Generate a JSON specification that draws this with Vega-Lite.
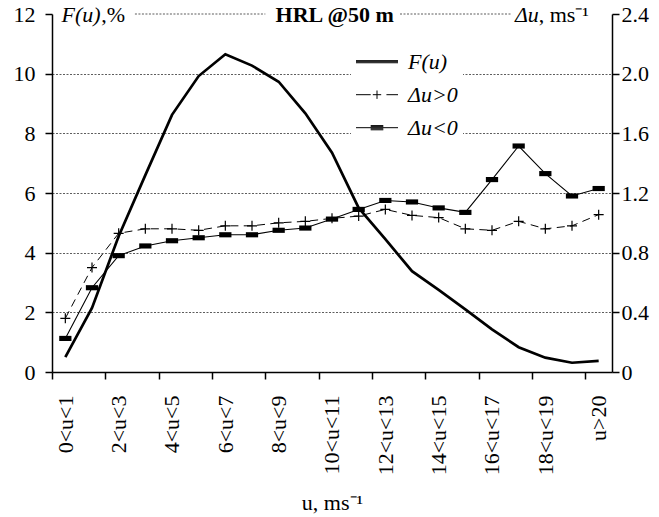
{
  "$schema": "https://vega.github.io/schema/vega-lite/v6.json",
  "width": 560,
  "height": 358,
  "autosize": {"type": "none"},
  "padding": {"left": 52, "top": 14, "right": 47, "bottom": 145},
  "background": "white",
  "config": {
    "view": {"stroke": null},
    "font": "Liberation Serif",
    "axis": {
      "labelFont": "Liberation Serif",
      "labelFontSize": 22,
      "labelColor": "black",
      "titleFont": "Liberation Serif",
      "titleFontSize": 22,
      "titleFontWeight": "normal",
      "titleColor": "black",
      "domainColor": "black",
      "domainWidth": 1.5
    }
  },
  "datasets": {
    "main": [
      {"u": 0.5, "F": 0.5, "pos": 0.36, "neg": 0.225},
      {"u": 1.5, "F": 2.15, "pos": 0.7, "neg": 0.565},
      {"u": 2.5, "F": 4.55, "pos": 0.93, "neg": 0.78},
      {"u": 3.5, "F": 6.6, "pos": 0.96, "neg": 0.845},
      {"u": 4.5, "F": 8.62, "pos": 0.96, "neg": 0.88},
      {"u": 5.5, "F": 9.92, "pos": 0.95, "neg": 0.9},
      {"u": 6.5, "F": 10.65, "pos": 0.98, "neg": 0.92},
      {"u": 7.5, "F": 10.27, "pos": 0.98, "neg": 0.92},
      {"u": 8.5, "F": 9.73, "pos": 1.0, "neg": 0.95},
      {"u": 9.5, "F": 8.67, "pos": 1.01, "neg": 0.965},
      {"u": 10.5, "F": 7.35, "pos": 1.03, "neg": 1.025},
      {"u": 11.5, "F": 5.5, "pos": 1.045, "neg": 1.09},
      {"u": 12.5, "F": 4.45, "pos": 1.09, "neg": 1.15},
      {"u": 13.5, "F": 3.38, "pos": 1.05, "neg": 1.14},
      {"u": 14.5, "F": 2.75, "pos": 1.035, "neg": 1.1},
      {"u": 15.5, "F": 2.1, "pos": 0.96, "neg": 1.07},
      {"u": 16.5, "F": 1.43, "pos": 0.95, "neg": 1.29},
      {"u": 17.5, "F": 0.83, "pos": 1.01, "neg": 1.515},
      {"u": 18.5, "F": 0.48, "pos": 0.96, "neg": 1.33},
      {"u": 19.5, "F": 0.31, "pos": 0.98, "neg": 1.18},
      {"u": 20.5, "F": 0.37, "pos": 1.055, "neg": 1.23}
    ]
  },
  "data": {"name": "main"},
  "layer": [
    {
      "layer": [
        {
          "mark": {"type": "line", "color": "black", "strokeWidth": 2.7},
          "encoding": {
            "x": {
              "field": "u",
              "type": "quantitative",
              "scale": {"domain": [0, 21], "nice": false, "zero": false},
              "axis": {
                "title": "u, ms⁻¹",
                "titlePadding": 18,
                "values": [0,1,2,3,4,5,6,7,8,9,10,11,12,13,14,15,16,17,18,19,20,21],
                "labelExpr": "datum.value % 2 == 0 && datum.value <= 20 ? ['0<u<1','2<u<3','4<u<5','6<u<7','8<u<9','10<u<11','12<u<13','14<u<15','16<u<17','18<u<19','u>20'][datum.value / 2] : ''",
                "labelOffset": 13.33,
                "labelAngle": -90,
                "labelPadding": 16,
                "labelFlush": false,
                "labelOverlap": false,
                "grid": false,
                "ticks": true,
                "tickSize": 7,
                "tickColor": "black",
                "tickWidth": 1.5,
                "tickOpacity": 1
              }
            },
            "y": {
              "field": "F",
              "type": "quantitative",
              "scale": {"domain": [0, 12], "nice": false},
              "axis": {
                "title": null,
                "orient": "left",
                "values": [0, 2, 4, 6, 8, 10, 12],
                "labelPadding": 10,
                "ticks": true,
                "tickSize": 7,
                "tickColor": "black",
                "tickWidth": 1.5,
                "grid": true,
                "gridColor": "#333",
                "gridWidth": 0.8,
                "gridDash": [2, 1.5],
                "gridOpacity": {"condition": {"test": "datum.value == 0 || datum.value == 12", "value": 0}, "value": 1}
              }
            }
          }
        },
        {
          "data": {"values": [{}]},
          "mark": {"type": "rule", "color": "#333", "strokeWidth": 0.8, "strokeDash": [2, 1.5]},
          "encoding": {
            "x": {"datum": 3.11, "type": "quantitative"},
            "x2": {"datum": 8.0},
            "y": {"datum": 12, "type": "quantitative"}
          }
        },
        {
          "data": {"values": [{}]},
          "mark": {"type": "rule", "color": "#333", "strokeWidth": 0.8, "strokeDash": [2, 1.5]},
          "encoding": {
            "x": {"datum": 13.05, "type": "quantitative"},
            "x2": {"datum": 17.24},
            "y": {"datum": 12, "type": "quantitative"}
          }
        },
        {
          "data": {"values": [{}]},
          "mark": {"type": "text", "text": "F(u)", "font": "Liberation Serif", "fontSize": 22, "fontStyle": "italic", "align": "left", "baseline": "middle", "dy": 1, "color": "black"},
          "encoding": {
            "x": {"datum": 0.36, "type": "quantitative"},
            "y": {"datum": 12, "type": "quantitative"}
          }
        },
        {
          "data": {"values": [{}]},
          "mark": {"type": "text", "text": ",%", "font": "Liberation Serif", "fontSize": 22, "align": "left", "baseline": "middle", "dy": 1, "color": "black"},
          "encoding": {
            "x": {"datum": 1.85, "type": "quantitative"},
            "y": {"datum": 12, "type": "quantitative"}
          }
        },
        {
          "data": {"values": [{}]},
          "mark": {"type": "text", "text": "HRL @50 m", "font": "Liberation Serif", "fontSize": 22, "fontWeight": "bold", "align": "center", "baseline": "middle", "dy": 1, "color": "black"},
          "encoding": {
            "x": {"datum": 10.6, "type": "quantitative"},
            "y": {"datum": 12, "type": "quantitative"}
          }
        },
        {
          "data": {"values": [{}]},
          "mark": {"type": "text", "text": "Δu", "font": "Liberation Serif", "fontSize": 22, "fontStyle": "italic", "align": "left", "baseline": "middle", "dy": 1, "color": "black"},
          "encoding": {
            "x": {"datum": 17.36, "type": "quantitative"},
            "y": {"datum": 12, "type": "quantitative"}
          }
        },
        {
          "data": {"values": [{}]},
          "mark": {"type": "text", "text": ", ms⁻¹", "font": "Liberation Serif", "fontSize": 22, "align": "left", "baseline": "middle", "dy": 1, "color": "black"},
          "encoding": {
            "x": {"datum": 18.25, "type": "quantitative"},
            "y": {"datum": 12, "type": "quantitative"}
          }
        }
      ]
    },
    {
      "layer": [
        {
          "mark": {"type": "line", "color": "black", "strokeWidth": 1, "strokeDash": [8, 5.33]},
          "encoding": {
            "x": {"field": "u", "type": "quantitative"},
            "y": {
              "field": "pos",
              "type": "quantitative",
              "scale": {"domain": [0, 2.4], "nice": false},
              "axis": {
                "title": null,
                "orient": "right",
                "values": [0, 0.4, 0.8, 1.2, 1.6, 2.0, 2.4],
                "labelExpr": "datum.value == 0 ? '0' : format(datum.value, '.1f')",
                "labelPadding": 2,
                "ticks": true,
                "tickSize": 7,
                "tickColor": "black",
                "tickWidth": 1.5,
                "grid": false
              }
            }
          }
        },
        {
          "mark": {"type": "point", "shape": "M-1,0H1M0,-1V1", "size": 100, "filled": false, "color": "black", "strokeWidth": 1.2, "opacity": 1},
          "encoding": {
            "x": {"field": "u", "type": "quantitative"},
            "y": {"field": "pos", "type": "quantitative"}
          }
        },
        {
          "mark": {"type": "line", "color": "black", "strokeWidth": 1.1},
          "encoding": {
            "x": {"field": "u", "type": "quantitative"},
            "y": {"field": "neg", "type": "quantitative"}
          }
        },
        {
          "mark": {"type": "point", "shape": "M-1,-0.42H1V0.42H-1Z", "size": 150, "filled": true, "color": "black", "opacity": 1},
          "encoding": {
            "x": {"field": "u", "type": "quantitative"},
            "y": {"field": "neg", "type": "quantitative"}
          }
        },
        {
          "data": {"values": []},
          "mark": {"type": "point", "filled": false, "color": "black", "strokeWidth": 1},
          "encoding": {
            "shape": {
              "field": "s",
              "type": "nominal",
              "scale": {
                "domain": ["F(u)", "Δu>0", "Δu<0"],
                "range": [
                  "M-2,-0.1H2M-2,0H2M-2,0.1H2",
                  "M-2,0H-0.6M-0.4,0H0.4M0,-0.4V0.4M0.9,0H2",
                  "M-2,0H2M-0.6,-0.2H0.6M-0.6,-0.1H0.6M-0.6,0.1H0.6M-0.6,0.2H0.6"
                ]
              },
              "legend": {
                "title": null,
                "orient": "none",
                "direction": "vertical",
                "legendX": 299,
                "legendY": 31.7,
                "fillColor": "white",
                "padding": 5,
                "symbolSize": 441,
                "symbolOffset": 10,
                "labelOffset": 20,
                "rowPadding": 11,
                "labelFont": "Liberation Serif",
                "labelFontSize": 22,
                "labelFontStyle": "italic",
                "labelColor": "black",
                "symbolStrokeColor": "black",
                "symbolOpacity": 1,
                "symbolStrokeWidth": 1
              }
            }
          }
        }
      ]
    }
  ],
  "resolve": {"scale": {"y": "independent"}}
}
